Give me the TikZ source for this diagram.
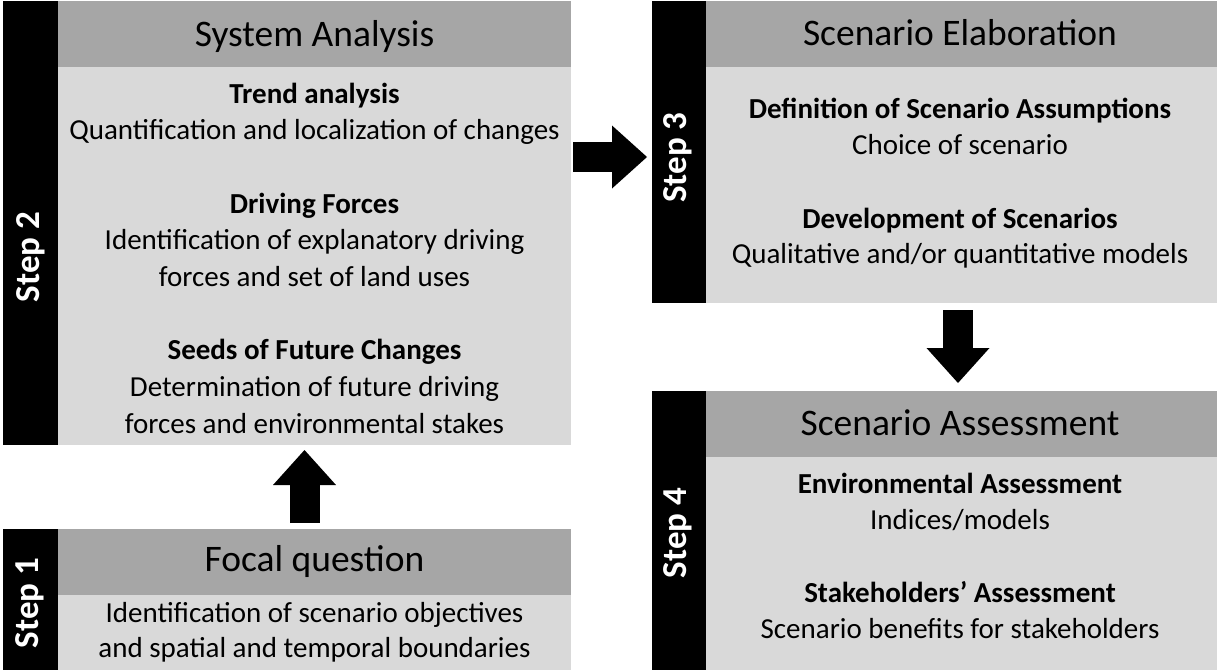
\documentclass[tikz,border=0pt]{standalone}
\usepackage{fontspec}
\setmainfont{Carlito}
\usetikzlibrary{arrows.meta}
\definecolor{hdrgray}{HTML}{A6A6A6}
\definecolor{bodygray}{HTML}{D9D9D9}
\begin{document}
\begin{tikzpicture}[x=1pt,y=-1pt,
  box/.style={anchor=north west, inner sep=0pt, outer sep=0pt, draw=none},
  bar/.style={box, fill=black},
  hdr/.style={box, fill=hdrgray},
  bdy/.style={box, fill=bodygray},
  steplbl/.style={text=white, font=\fontsize{35}{42}\selectfont\bfseries, rotate=90, inner sep=0pt},
  ttl/.style={anchor=base, inner sep=0pt, font=\fontsize{37.5}{45}\selectfont},
  sub/.style={anchor=base, inner sep=0pt, font=\fontsize{29}{35}\selectfont\bfseries},
  txt/.style={anchor=base, inner sep=0pt, font=\fontsize{29}{35}\selectfont},
  blockarrow/.style={line width=30pt, -{Triangle[length=35pt,width=63pt,line width=0pt]}}
]
\useasboundingbox (0,0) rectangle (1217,670);

% ---------- Step 2 ----------
\node[bar, minimum width=55pt, minimum height=444pt] (bar2) at (3,1) {};
\node[hdr, minimum width=513pt, minimum height=66pt] (hdr2) at (58,1) {};
\node[bdy, minimum width=513pt, minimum height=378pt] (body2) at (58,67) {};
\node[steplbl] (lbl2) at (31,257) {Step 2};
\node[ttl] (t2) at (314.5,46) {System Analysis};
\node[sub] (s2a) at (314.5,103) {Trend analysis};
\node[txt] (l2a) at (314.5,139) {Quantification and localization of changes};
\node[sub] (s2b) at (314.5,213) {Driving Forces};
\node[txt] (l2b) at (314.5,249) {Identification of explanatory driving};
\node[txt] (l2c) at (314.5,286) {forces and set of land uses};
\node[sub] (s2c) at (314.5,359) {Seeds of Future Changes};
\node[txt] (l2d) at (314.5,396) {Determination of future driving};
\node[txt] (l2e) at (314.5,433) {forces and environmental stakes};

% ---------- Step 3 ----------
\node[bar, minimum width=54pt, minimum height=302pt] (bar3) at (652,1) {};
\node[hdr, minimum width=511pt, minimum height=66pt] (hdr3) at (706,1) {};
\node[bdy, minimum width=511pt, minimum height=236pt] (body3) at (706,67) {};
\node[steplbl] (lbl3) at (678,157.5) {Step 3};
\node[ttl] (t3) at (960,45) {Scenario Elaboration};
\node[sub] (s3a) at (960,118) {Definition of Scenario Assumptions};
\node[txt] (l3a) at (960,154) {Choice of scenario};
\node[sub] (s3b) at (960,228) {Development of Scenarios};
\node[txt] (l3b) at (960,263) {Qualitative and/or quantitative models};

% ---------- Step 4 ----------
\node[bar, minimum width=54pt, minimum height=279pt] (bar4) at (652,391) {};
\node[hdr, minimum width=511pt, minimum height=66pt] (hdr4) at (706,391) {};
\node[bdy, minimum width=511pt, minimum height=213pt] (body4) at (706,457) {};
\node[steplbl] (lbl4) at (678,533) {Step 4};
\node[ttl] (t4) at (960,435) {Scenario Assessment};
\node[sub] (s4a) at (960,493) {Environmental Assessment};
\node[txt] (l4a) at (960,529) {Indices/models};
\node[sub] (s4b) at (960,602) {Stakeholders’ Assessment};
\node[txt] (l4b) at (960,638) {Scenario benefits for stakeholders};

% ---------- Step 1 ----------
\node[bar, minimum width=55pt, minimum height=141pt] (bar1) at (3,529) {};
\node[hdr, minimum width=513pt, minimum height=66pt] (hdr1) at (58,529) {};
\node[bdy, minimum width=513pt, minimum height=75pt] (body1) at (58,595) {};
\node[steplbl] (lbl1) at (30,603) {Step 1};
\node[ttl] (t1) at (314.5,571) {Focal question};
\node[txt] (l1a) at (314.5,622) {Identification of scenario objectives};
\node[txt] (l1b) at (314.5,657) {and spatial and temporal boundaries};

% ---------- Arrows ----------
\coordinate (a1s) at (304.5,523);
\coordinate (a1e) at (304.5,450);
\coordinate (a2s) at (573,157);
\coordinate (a2e) at (647,157);
\coordinate (a3s) at (958,310);
\coordinate (a3e) at (958,383);
\draw[blockarrow] (a1s) -- (a1e);
\draw[blockarrow] (a2s) -- (a2e);
\draw[blockarrow] (a3s) -- (a3e);
\end{tikzpicture}
\end{document}
